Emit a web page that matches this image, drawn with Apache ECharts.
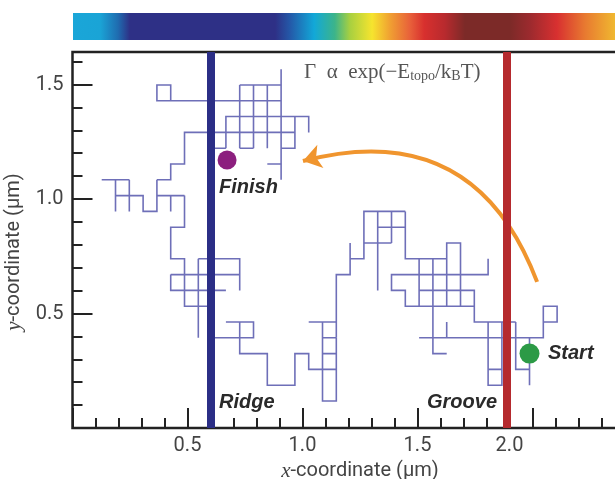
<!DOCTYPE html>
<html><head><meta charset="utf-8">
<script src="https://cdn.jsdelivr.net/npm/echarts@6/dist/echarts.min.js"></script>
<style>html,body{margin:0;padding:0;background:#fff}#c{width:615px;height:479px}</style>
</head><body><div id="c"></div>
<script>
// ---- data (µm) ----
const xTickValues = [0.5, 1.0, 1.5, 2.0];
const yTickValues = [0.5, 1.0, 1.5];
const ridgeX = 0.601;
const grooveX = 1.893;
const startPoint = [1.987, 0.325];
const finishPoint = [0.672, 1.170];
const arrowFrom = [2.020, 0.638];
const arrowTo = [1.002, 1.166];
// trajectory drawn as lattice polylines
const walkPaths = [
  [[0.427,1.429],[0.427,1.498],[0.367,1.498],[0.367,1.429],[0.907,1.429]],
  [[0.727,1.498],[0.907,1.498]],
  [[0.727,1.498],[0.727,1.222]],
  [[0.787,1.498],[0.787,1.222]],
  [[0.847,1.498],[0.847,1.222]],
  [[0.907,1.567],[0.907,1.084]],
  [[0.847,1.153],[0.907,1.153]],
  [[0.667,1.222],[0.667,1.360],[1.027,1.360],[1.027,1.291]],
  [[0.367,1.084],[0.427,1.084],[0.427,1.153],[0.487,1.153],[0.487,1.291],[0.967,1.291]],
  [[0.967,1.360],[0.967,1.222],[0.907,1.222]],
  [[0.607,1.222],[0.667,1.222]],
  [[0.727,1.222],[0.787,1.222]],
  [[0.127,1.084],[0.247,1.084]],
  [[0.187,1.084],[0.187,0.946]],
  [[0.247,1.084],[0.247,0.946]],
  [[0.187,1.015],[0.307,1.015],[0.307,0.946],[0.367,0.946],[0.367,1.084]],
  [[0.367,1.015],[0.487,1.015]],
  [[0.427,1.015],[0.427,0.946]],
  [[0.487,1.015],[0.487,0.877],[0.427,0.877],[0.427,0.739],[0.487,0.739],[0.487,0.532],[0.607,0.532]],
  [[0.547,0.739],[0.727,0.739],[0.727,0.601]],
  [[0.427,0.670],[0.727,0.670]],
  [[0.427,0.670],[0.427,0.601],[0.667,0.601]],
  [[0.547,0.739],[0.547,0.394]],
  [[0.667,0.463],[0.787,0.463],[0.787,0.394],[0.607,0.394]],
  [[0.727,0.463],[0.727,0.325],[0.847,0.325],[0.847,0.187],[0.967,0.187],[0.967,0.325],[1.027,0.325],[1.027,0.256],[1.147,0.256]],
  [[1.027,0.463],[1.147,0.463]],
  [[1.087,0.463],[1.087,0.118],[1.147,0.118],[1.147,0.394]],
  [[1.087,0.394],[1.147,0.394]],
  [[1.087,0.325],[1.147,0.325]],
  [[1.147,0.394],[1.147,0.670],[1.207,0.670],[1.207,0.808]],
  [[1.207,0.739],[1.267,0.739],[1.267,0.946],[1.447,0.946]],
  [[1.327,0.946],[1.327,0.601]],
  [[1.387,0.946],[1.387,0.808]],
  [[1.447,0.946],[1.447,0.739],[1.627,0.739]],
  [[1.327,0.877],[1.447,0.877]],
  [[1.267,0.808],[1.387,0.808]],
  [[1.507,0.739],[1.507,0.532]],
  [[1.567,0.739],[1.567,0.325],[1.627,0.325]],
  [[1.627,0.532],[1.627,0.808],[1.687,0.808],[1.687,0.532]],
  [[1.627,0.463],[1.627,0.394]],
  [[1.807,0.739],[1.807,0.670],[1.387,0.670],[1.387,0.601],[1.447,0.601],[1.447,0.532],[1.747,0.532]],
  [[1.507,0.601],[1.747,0.601],[1.747,0.463],[1.927,0.463]],
  [[1.507,0.394],[2.047,0.394],[2.047,0.532],[2.107,0.532],[2.107,0.463],[2.047,0.463]],
  [[1.807,0.463],[1.807,0.187],[1.867,0.187],[1.867,0.463]],
  [[1.807,0.256],[1.867,0.256]],
  [[1.927,0.463],[1.927,0.256],[1.987,0.256]],
  [[1.987,0.394],[1.987,0.187]]
];

// ---- chart ----
const chart = echarts.init(document.getElementById('c'), null, {renderer: 'canvas'});
const labelFont = "'Liberation Sans Narrow','Roboto','Liberation Sans',sans-serif";
const axisColor = '#222';
const option = {
  animation: false,
  backgroundColor: '#fff',
  grid: {left: 72.5, top: 52, width: 575, height: 376, outerBoundsMode: 'none', containLabel: false,
    show: true, borderColor: axisColor, borderWidth: 2.5, backgroundColor: 'transparent'},
  xAxis: {
    type: 'value', min: 0, max: 2.5, interval: 0.5,
    name: '{i|x}-coordinate (µm)', nameLocation: 'middle', nameGap: 28,
    nameTextStyle: {fontSize: 20, color: '#444', fontFamily: labelFont,
      rich: {i: {fontSize: 21, fontStyle: 'italic', fontFamily: "'Liberation Serif',serif", color: '#444'}}},
    axisLine: {show: false},
    axisTick: {show: true, inside: true, length: 20, lineStyle: {color: axisColor, width: 2}},
    minorTick: {show: true, splitNumber: 5, length: 10, lineStyle: {color: axisColor, width: 2}},
    splitLine: {show: false},
    axisLabel: {
      color: '#444', fontSize: 20, fontFamily: labelFont, margin: 8,
      showMinLabel: false, showMaxLabel: false,
      formatter: v => xTickValues.indexOf(v) < 0 ? '' : (v === 2 ? '{s|' + v.toFixed(1) + '}' : v.toFixed(1)),
      rich: {s: {padding: [0, 46, 0, 0], fontSize: 20, color: '#444', fontFamily: labelFont}}
    }
  },
  yAxis: {
    type: 'value', min: 0, max: 1.642, interval: 0.5,
    name: '{i|y}-coordinate (µm)', nameLocation: 'middle', nameGap: 42,
    nameTextStyle: {fontSize: 20, color: '#444', fontFamily: labelFont, padding: [0, 24, 0, 0],
      rich: {i: {fontSize: 21, fontStyle: 'italic', fontFamily: "'Liberation Serif',serif", color: '#444'}}},
    axisLine: {show: false},
    axisTick: {show: true, inside: true, length: 20, lineStyle: {color: axisColor, width: 2}},
    minorTick: {show: true, splitNumber: 5, length: 10, lineStyle: {color: axisColor, width: 2}},
    splitLine: {show: false},
    axisLabel: {
      color: '#444', fontSize: 20, fontFamily: labelFont, margin: 9,
      showMinLabel: false, showMaxLabel: false,
      formatter: v => yTickValues.indexOf(v) < 0 ? '' : v.toFixed(1)
    }
  },
  series: [
    {
      type: 'lines', coordinateSystem: 'cartesian2d', polyline: true, z: 2,
      lineStyle: {color: '#6e6fb8', width: 1.6, opacity: 1},
      data: walkPaths.map(p => ({coords: p}))
    },
    {
      type: 'line', data: [], z: 3,
      markLine: {
        silent: true, symbol: ['none', 'none'], label: {show: false},
        data: [
          {xAxis: ridgeX, lineStyle: {color: '#2b2e86', width: 8, type: 'solid'}},
          {xAxis: grooveX, lineStyle: {color: '#b52a2e', width: 8, type: 'solid'}}
        ]
      }
    },
    {
      type: 'lines', coordinateSystem: 'cartesian2d', z: 4,
      symbol: ['none', 'arrow'], symbolSize: 18,
      lineStyle: {color: '#f0952e', width: 4, curveness: -0.45, opacity: 1},
      data: [{coords: [arrowFrom, arrowTo]}]
    },
    {
      type: 'scatter', z: 5, symbolSize: 19,
      itemStyle: {opacity: 1},
      data: [
        {value: finishPoint, itemStyle: {color: '#8c1f7e', opacity: 1}},
        {value: startPoint, itemStyle: {color: '#2c9a46', opacity: 1}, symbolSize: 20}
      ]
    }
  ],
  graphic: [
    {type: 'rect', z: 0, shape: {x: 73, y: 13, width: 542, height: 27},
      style: {fill: new echarts.graphic.LinearGradient(0, 0, 1, 0, [
        {offset: 0, color: '#1aa6d8'}, {offset: 0.05, color: '#1aa4d6'},
        {offset: 0.083, color: '#1f6cb0'}, {offset: 0.105, color: '#2e3086'},
        {offset: 0.373, color: '#2e3086'}, {offset: 0.40, color: '#2458a8'},
        {offset: 0.445, color: '#12a8d8'}, {offset: 0.483, color: '#3cb48a'},
        {offset: 0.511, color: '#a8d040'}, {offset: 0.552, color: '#f6e42e'},
        {offset: 0.585, color: '#f0a032'}, {offset: 0.622, color: '#e8603a'},
        {offset: 0.648, color: '#d8302e'}, {offset: 0.686, color: '#b82a2e'},
        {offset: 0.723, color: '#7c2a28'}, {offset: 0.806, color: '#7c2a28'},
        {offset: 0.843, color: '#9c2a2e'}, {offset: 0.893, color: '#d83030'},
        {offset: 0.945, color: '#e87a30'}, {offset: 1, color: '#f0b830'}
      ])}},
    {type: 'text', z: 10, left: 304, top: 62,
      style: {text: 'Γ  α  exp(−E{s|topo}/k{s|B}T)', fill: '#555', font: "21px 'Liberation Serif',serif",
        rich: {s: {fontSize: 14, fill: '#555', fontFamily: "'Liberation Serif',serif", verticalAlign: 'bottom', padding: [7, 0, 0, 0]}}}},
    {type: 'text', z: 10, left: 219, top: 177,
      style: {text: 'Finish', fill: '#2a2a2a', font: "italic bold 20px 'Liberation Sans',Arial,sans-serif"}},
    {type: 'text', z: 10, left: 548, top: 343,
      style: {text: 'Start', fill: '#2a2a2a', font: "italic bold 20px 'Liberation Sans',Arial,sans-serif"}},
    {type: 'text', z: 10, left: 219, top: 392,
      style: {text: 'Ridge', fill: '#2a2a2a', font: "italic bold 20px 'Liberation Sans',Arial,sans-serif"}},
    {type: 'text', z: 10, left: 427, top: 392,
      style: {text: 'Groove', fill: '#2a2a2a', font: "italic bold 20px 'Liberation Sans',Arial,sans-serif"}}
  ]
};
chart.setOption(option);
</script>
</body></html>
